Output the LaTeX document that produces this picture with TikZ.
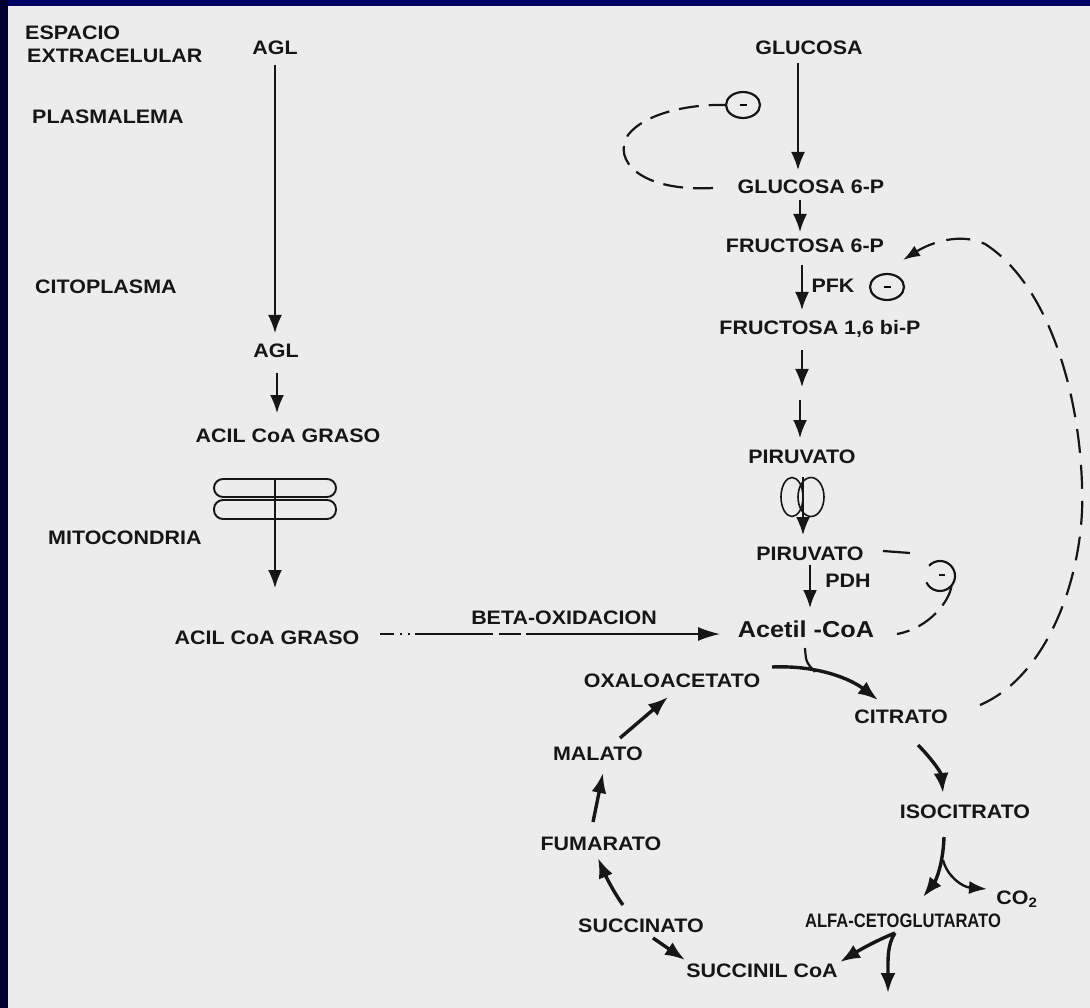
\documentclass[tikz,border=0pt]{standalone}
\usepackage{fontspec}
\setmainfont{Liberation Sans}[FakeStretch=1.1]
\newfontfamily\condfont{Liberation Sans}[FakeStretch=0.85]
\usetikzlibrary{arrows.meta,shapes.geometric}
\definecolor{paper}{HTML}{ECECEC}
\definecolor{ink}{HTML}{161616}
\definecolor{navytop}{HTML}{000064}
\definecolor{navyside}{HTML}{000030}

\begin{document}
\begin{tikzpicture}[x=1pt,y=-1pt,
  lbl/.style={inner sep=0pt, text=ink, text height=14pt, text depth=0pt,
              font=\fontsize{19.5}{20}\selectfont\bfseries},
  side/.style={lbl, anchor=west},
  big/.style={inner sep=0pt, text=ink, text height=17pt, text depth=0pt,
              font=\fontsize{23}{24}\selectfont\bfseries},
  cond/.style={lbl, font=\fontsize{19.5}{20}\selectfont\condfont\bfseries},
  flow/.style={draw=ink, line width=1.8pt, -{Latex[length=18pt,width=14pt]}},
  cyc/.style={draw=ink, line width=3.4pt, -{Latex[length=20pt,width=15pt]}},
  fb/.style={draw=ink, line width=2.2pt, dash pattern=on 24pt off 12pt},
  inhib/.style={draw=ink, line width=2.2pt, ellipse, minimum width=34pt,
                minimum height=26pt, inner sep=0pt},
  membrane/.style={draw=ink, line width=1.9pt}
]
% page and frame
\useasboundingbox (0,0) rectangle (1090,1008);
\fill[paper] (0,0) rectangle (1090,1008);
\fill[navytop] (0,0) rectangle (1090,6);
\fill[navyside] (0,0) rectangle (8,1008);

% compartment labels
\node[side] (espacio) at (25,33) {ESPACIO};
\node[side] (extra) at (27,56) {EXTRACELULAR};
\node[side] (plasma) at (32,117) {PLASMALEMA};
\node[side] (cito) at (35,287) {CITOPLASMA};
\node[side] (mito) at (48,537) {MITOCONDRIA};

% fatty acid column
\node[lbl] (agl1) at (275,48) {AGL};
\node[lbl] (agl2) at (276,350) {AGL};
\node[lbl] (acil1) at (288,435) {ACIL CoA GRASO};
\node[lbl] (acil2) at (267,637) {ACIL CoA GRASO};
\node[lbl] (beta) at (564,617) {BETA-OXIDACION};

% glycolysis column
\node[lbl] (glucosa) at (809,48) {GLUCOSA};
\node[lbl] (g6p) at (811,187) {GLUCOSA 6-P};
\node[lbl] (f6p) at (805,246) {FRUCTOSA 6-P};
\node[lbl] (pfk) at (833,286) {PFK};
\node[lbl] (f16) at (820,328) {FRUCTOSA 1,6 bi-P};
\node[lbl] (piru1) at (802,456) {PIRUVATO};
\node[lbl] (piru2) at (810,553) {PIRUVATO};
\node[lbl] (pdh) at (848,580) {PDH};
\node[big] (acetil) at (806,629) {Acetil -CoA};

% Krebs cycle
\node[lbl] (oxalo) at (672,680) {OXALOACETATO};
\node[lbl] (citrato) at (901,716) {CITRATO};
\node[lbl] (iso) at (965,811) {ISOCITRATO};
\node[cond] (alfa) at (903,920) {ALFA-CETOGLUTARATO};
\node[lbl] (co2) at (1017,897) {CO\textsubscript{2}};
\node[lbl] (succinil) at (762,970) {SUCCINIL CoA};
\node[lbl] (succinato) at (641,925) {SUCCINATO};
\node[lbl] (fumarato) at (601,843) {FUMARATO};
\node[lbl] (malato) at (598,753) {MALATO};

% inhibition marks
\node[inhib] (inh1) at (743,105) {\rule{7pt}{2pt}};
\node[inhib] (inh2) at (887,287) {\rule{7pt}{2pt}};

% fatty acid transport
\draw[flow] ([shift={(0,17)}]agl1.center) -- ([shift={(-1,-17)}]agl2.center);
\draw[flow] ([shift={(1,23)}]agl2.center) -- ([shift={(-11,-22)}]acil1.center);
\draw[membrane, rounded corners=9pt] (214,479) rectangle (336,497);
\draw[membrane, rounded corners=9pt] (214,500) rectangle (336,519);
\draw[flow] ([shift={(-13,45)}]acil1.center) -- ([shift={(8,-49)}]acil2.center);
\draw[draw=ink, line width=1.5pt,
      dash pattern=on 14pt off 6pt on 2pt off 6pt on 2pt off 5pt on 78pt off 6pt on 22pt off 5pt on 200pt off 3pt,
      -{Latex[length=22pt,width=14pt]}]
  ([shift={(113,-3)}]acil2.center) -- ([shift={(-86,5)}]acetil.center);

% glycolysis
\draw[flow] ([shift={(-11,15)}]glucosa.center) -- ([shift={(-13,-17)}]g6p.center);
\draw[flow] ([shift={(-11,13)}]g6p.center) -- ([shift={(-5,-14)}]f6p.center);
\draw[flow] ([shift={(-3,19)}]f6p.center) -- ([shift={(-18,-18)}]f16.center);
\coordinate (glymid) at (801,394);
\draw[flow] ([shift={(-18,22)}]f16.center) -- ([shift={(1,-7)}]glymid);
\draw[flow] ([shift={(-1,6)}]glymid) -- ([shift={(-2,-18)}]piru1.center);
\draw[membrane, line width=1.6pt] (792,497) ellipse [x radius=11, y radius=19.5];
\draw[membrane, line width=1.6pt] (811,497) ellipse [x radius=13, y radius=19.5];
\draw[flow] ([shift={(1,21)}]piru1.center) -- ([shift={(-7,-18)}]piru2.center);
\draw[flow] ([shift={(0,12)}]piru2.center) -- ([shift={(4,-21)}]acetil.center);

% hexokinase feedback
\draw[fb, dash pattern=on 20pt off 10pt]
  ([shift={(-98,1)}]g6p.center) .. controls (640,192) and (612,160) .. (628,135)
  .. controls (645,113) and (690,104) .. (inh1.west);

% citrate feedback on PFK
\draw[fb, -{Latex[length=17pt,width=12pt]}]
  ([shift={(79,-11)}]citrato.center) .. controls (1050,675) and (1086,570) .. (1082,485)
  .. controls (1079,385) and (1045,282) .. (985,244)
  .. controls (960,232) and (930,243) .. ([shift={(16,-27)}]inh2.center);

% PDH feedback
\coordinate (pdhloop) at (940,576);
\draw[ink, line width=2.2pt] ([shift={(73,-2)}]piru2.center) -- +(27,2);
\draw[ink, line width=2.2pt] (pdhloop) ++(223:15) arc[start angle=223, end angle=515, radius=15];
\draw[ink, line width=1.8pt] ([shift={(-1,-1)}]pdhloop) -- ([shift={(5,-1)}]pdhloop);
\draw[ink, line width=2.2pt, dash pattern=on 22pt off 10pt]
  ([shift={(40:15)}]pdhloop) .. controls (950,600) and (930,628) .. ([shift={(91,5)}]acetil.center);

% entry into the cycle
\coordinate (merge) at (815,672);
\draw[ink, line width=2.2pt] ([shift={(-1,19)}]acetil.center) .. controls (806,662) .. (merge);
\draw[cyc] ([shift={(100,-13)}]oxalo.center) .. controls (820,665) and (852,680) .. ([shift={(-23,-16)}]citrato.center);

% Krebs cycle steps
\draw[cyc] ([shift={(17,29)}]citrato.center) .. controls (930,757) and (941,772) .. ([shift={(-22,-18)}]iso.center);
\coordinate (isobranch) at (943,860);
\draw[cyc] ([shift={(-21,26)}]iso.center) .. controls (943,866) and (935,882) .. ([shift={(20,-23)}]alfa.center);
\draw[ink, line width=2.4pt, -{Latex[length=18pt,width=13pt]}]
  (isobranch) .. controls (947,876) and (962,887) .. ([shift={(-30,-8)}]co2.center);
\coordinate (exit) at (888,993);
\draw[cyc] ([shift={(-8,13)}]alfa.center) .. controls (875,941) and (858,951) .. ([shift={(78,-8)}]succinil.center);
\draw[cyc] ([shift={(-8,13)}]alfa.center) .. controls (887,945) and (888,960) .. (exit);
\draw[cyc] ([shift={(12,13)}]succinato.center) -- ([shift={(-77,-10)}]succinil.center);
\draw[cyc] ([shift={(-18,-20)}]succinato.center) .. controls (612,890) and (603,870) .. ([shift={(-3,15)}]fumarato.center);
\draw[cyc] ([shift={(-8,-21)}]fumarato.center) -- ([shift={(5,20)}]malato.center);
\draw[cyc] ([shift={(22,-15)}]malato.center) -- ([shift={(-4,17)}]oxalo.center);
\end{tikzpicture}
\end{document}
